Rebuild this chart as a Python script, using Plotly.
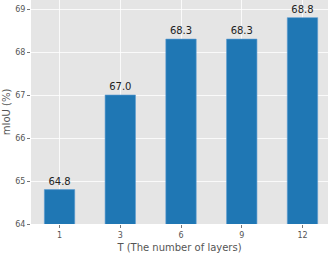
import plotly.graph_objects as go

layers = ["1", "3", "6", "9", "12"]
miou = [64.8, 67.0, 68.3, 68.3, 68.8]
y_ticks = [64, 65, 66, 67, 68, 69]

fig = go.Figure(go.Bar(
    x=layers, y=miou, width=0.5,
    marker=dict(color="#1f77b4", line=dict(color="#5b9bd0", width=0.6)),
    text=[f"{v:.1f}" for v in miou], textposition="outside",
    textfont=dict(family="DejaVu Sans", size=10, color="#222222"),
    cliponaxis=False, constraintext="none",
))
fig.update_layout(
    width=332, height=253,
    margin=dict(l=31, r=4, t=0, b=29, autoexpand=False),
    paper_bgcolor="white", plot_bgcolor="#e5e5e5",
    font=dict(family="DejaVu Sans", color="#555555"),
    showlegend=False, bargap=0.5,
    uniformtext=dict(minsize=10, mode="show"),
)
fig.update_xaxes(
    type="category", range=[-0.47, 4.42], automargin=False,
    showgrid=True, gridcolor="white", gridwidth=0.8,
    ticks="outside", ticklen=3, tickcolor="#555555", tickwidth=0.8,
    tickfont=dict(size=8, color="#555555"),
    title=dict(text="T (The number of layers)", font=dict(size=10, color="#555555"), standoff=5),
    showline=False, zeroline=False,
)
fig.update_yaxes(
    range=[64, 69.21], tickvals=y_ticks, automargin=False,
    showgrid=True, gridcolor="white", gridwidth=0.8,
    ticks="outside", ticklen=3, tickcolor="#555555", tickwidth=0.8,
    tickfont=dict(size=8, color="#555555"),
    title=dict(text="mIoU (%)", font=dict(size=10, color="#555555"), standoff=2),
    showline=False, zeroline=False,
)
fig.write_html(
    "out.html",
    config={"displayModeBar": False, "staticPlot": True},
    post_script="document.body.style.margin='0px';document.body.style.overflow='hidden';",
)
